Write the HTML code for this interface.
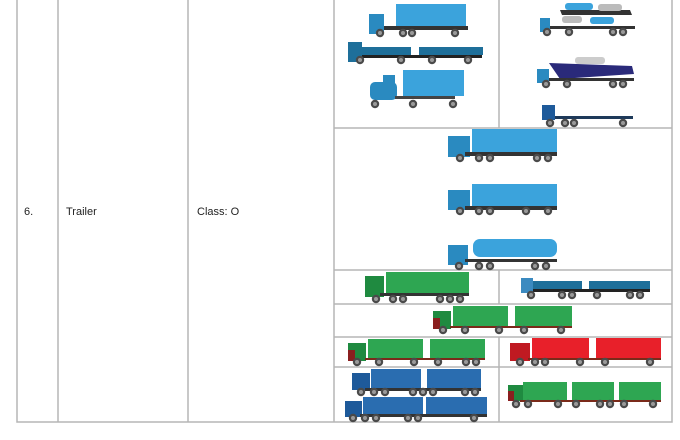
<!DOCTYPE html>
<html><head><style>
body{margin:0;background:#fff;width:680px;height:440px;overflow:hidden}
svg{display:block}
text{font-family:"Liberation Sans",Calibri,sans-serif;font-size:11px;fill:#222}
</style></head><body>
<svg width="680" height="440" viewBox="0 0 680 440">
<defs>
<g id="w"><circle r="4.2" fill="#4a4a4a"/><circle r="2" fill="#9a9a9a"/></g>
</defs>
<!-- grid -->
<g stroke="#b5b5b5" stroke-width="1.5" fill="none">
<rect x="17" y="-1" width="655" height="423"/>
<line x1="58" y1="0" x2="58" y2="422"/>
<line x1="188" y1="0" x2="188" y2="422"/>
<line x1="334" y1="0" x2="334" y2="422"/>
<line x1="499" y1="0" x2="499" y2="128"/>
<line x1="334" y1="128" x2="672" y2="128"/>
<line x1="334" y1="270" x2="672" y2="270"/>
<line x1="499" y1="270" x2="499" y2="304"/>
<line x1="334" y1="304" x2="672" y2="304"/>
<line x1="334" y1="337" x2="672" y2="337"/>
<line x1="499" y1="337" x2="499" y2="422"/>
<line x1="334" y1="367" x2="672" y2="367"/>
</g>
<text x="24" y="215">6.</text>
<text x="66" y="215">Trailer</text>
<text x="197" y="215">Class: O</text>

<!-- top-left trucks -->
<rect x="396" y="4" width="70" height="23" fill="#3ba3dc"/>
<rect x="369" y="14" width="15" height="20" fill="#2a8ac0"/><rect x="384" y="26" width="84" height="4" fill="#333"/>
<use href="#w" x="380" y="33"/><use href="#w" x="403" y="33"/><use href="#w" x="412" y="33"/><use href="#w" x="455" y="33"/>
<rect x="348" y="42" width="14" height="20" fill="#1e6f9a"/>
<rect x="362" y="47" width="49" height="8" fill="#1e6f9a"/><rect x="419" y="47" width="64" height="8" fill="#1e6f9a"/>
<rect x="362" y="55" width="120" height="3" fill="#222"/>
<use href="#w" x="360" y="60"/><use href="#w" x="401" y="60"/><use href="#w" x="432" y="60"/><use href="#w" x="468" y="60"/>
<rect x="403" y="70" width="61" height="26" fill="#3ba3dc"/>
<rect x="370" y="82" width="27" height="18" rx="5" fill="#2a8ac0"/><rect x="383" y="75" width="12" height="10" fill="#2a8ac0"/>
<rect x="395" y="96" width="60" height="3" fill="#444"/>
<use href="#w" x="375" y="104"/><use href="#w" x="413" y="104"/><use href="#w" x="453" y="104"/>
<!-- top-right -->
<rect x="540" y="18" width="10" height="14" fill="#2a8ac0"/>
<polygon points="560,10 630,10 632,15 562,15" fill="#333"/>
<rect x="565" y="3" width="28" height="7" rx="3" fill="#3ba3dc"/><rect x="598" y="4" width="24" height="7" rx="3" fill="#bbb"/>
<rect x="562" y="16" width="20" height="7" rx="3" fill="#bbb"/><rect x="590" y="17" width="24" height="7" rx="3" fill="#3ba3dc"/>
<rect x="550" y="26" width="85" height="3" fill="#333"/>
<use href="#w" x="547" y="32"/><use href="#w" x="569" y="32"/><use href="#w" x="613" y="32"/><use href="#w" x="623" y="32"/>
<polygon points="549,63 632,66 634,74 560,79" fill="#2a2a7a"/><rect x="575" y="57" width="30" height="7" rx="3" fill="#ccc"/>
<rect x="537" y="69" width="12" height="14" fill="#2a8ac0"/><rect x="549" y="78" width="85" height="3" fill="#333"/>
<use href="#w" x="546" y="84"/><use href="#w" x="567" y="84"/><use href="#w" x="613" y="84"/><use href="#w" x="623" y="84"/>
<rect x="542" y="105" width="13" height="15" fill="#1e5a9a"/><rect x="555" y="116" width="78" height="3" fill="#1e3a5a"/>
<use href="#w" x="550" y="123"/><use href="#w" x="565" y="123"/><use href="#w" x="574" y="123"/><use href="#w" x="623" y="123"/>
<!-- middle three -->
<g>
<rect x="472" y="129" width="85" height="23" fill="#3ba3dc"/><rect x="448" y="136" width="22" height="21" fill="#2a8ac0"/>
<rect x="465" y="152" width="92" height="4" fill="#333"/>
<use href="#w" x="460" y="158"/><use href="#w" x="479" y="158"/><use href="#w" x="490" y="158"/><use href="#w" x="537" y="158"/><use href="#w" x="548" y="158"/>
</g>
<g>
<rect x="472" y="184" width="85" height="22" fill="#3ba3dc"/><rect x="448" y="190" width="22" height="20" fill="#2a8ac0"/>
<rect x="465" y="206" width="92" height="4" fill="#333"/>
<use href="#w" x="460" y="211"/><use href="#w" x="479" y="211"/><use href="#w" x="490" y="211"/><use href="#w" x="526" y="211"/><use href="#w" x="548" y="211"/>
</g>
<g>
<rect x="473" y="239" width="84" height="18" rx="7" fill="#3ba3dc"/><rect x="448" y="245" width="20" height="20" fill="#2a8ac0"/>
<rect x="465" y="259" width="92" height="3" fill="#333"/>
<use href="#w" x="459" y="266"/><use href="#w" x="479" y="266"/><use href="#w" x="490" y="266"/><use href="#w" x="535" y="266"/><use href="#w" x="546" y="266"/>
</g>
<!-- row 270 -->
<rect x="386" y="272" width="83" height="21" fill="#2ea652"/><rect x="365" y="276" width="19" height="21" fill="#1f8a40"/>
<rect x="380" y="293" width="89" height="3" fill="#333"/>
<use href="#w" x="376" y="299"/><use href="#w" x="393" y="299"/><use href="#w" x="403" y="299"/><use href="#w" x="440" y="299"/><use href="#w" x="450" y="299"/><use href="#w" x="460" y="299"/>
<rect x="521" y="278" width="12" height="15" fill="#3b8ac0"/><rect x="533" y="281" width="49" height="8" fill="#1e6f9a"/><rect x="589" y="281" width="61" height="8" fill="#1e6f9a"/>
<rect x="533" y="289" width="117" height="3" fill="#222"/>
<use href="#w" x="531" y="295"/><use href="#w" x="562" y="295"/><use href="#w" x="572" y="295"/><use href="#w" x="597" y="295"/><use href="#w" x="630" y="295"/><use href="#w" x="640" y="295"/>
<!-- row 304 -->
<rect x="453" y="306" width="55" height="20" fill="#2ea652"/><rect x="515" y="306" width="57" height="20" fill="#2ea652"/>
<rect x="433" y="311" width="18" height="18" fill="#1f8a40"/><rect x="433" y="318" width="7" height="11" fill="#8a1f1f"/>
<rect x="450" y="326" width="122" height="2" fill="#7a2a1a"/>
<use href="#w" x="443" y="330"/><use href="#w" x="465" y="330"/><use href="#w" x="499" y="330"/><use href="#w" x="524" y="330"/><use href="#w" x="561" y="330"/>
<!-- row 337 left green -->
<rect x="368" y="339" width="55" height="19" fill="#2ea652"/><rect x="430" y="339" width="55" height="19" fill="#2ea652"/>
<rect x="348" y="343" width="18" height="18" fill="#1f8a40"/><rect x="348" y="350" width="7" height="11" fill="#8a1f1f"/>
<rect x="365" y="358" width="120" height="2" fill="#7a2a1a"/>
<use href="#w" x="357" y="362"/><use href="#w" x="379" y="362"/><use href="#w" x="414" y="362"/><use href="#w" x="438" y="362"/><use href="#w" x="466" y="362"/><use href="#w" x="476" y="362"/>
<!-- red -->
<rect x="532" y="338" width="57" height="20" fill="#e8202a"/><rect x="596" y="338" width="65" height="20" fill="#e8202a"/>
<rect x="510" y="343" width="20" height="18" fill="#c01a22"/><rect x="528" y="358" width="133" height="2" fill="#7a2a1a"/>
<use href="#w" x="520" y="362"/><use href="#w" x="535" y="362"/><use href="#w" x="545" y="362"/><use href="#w" x="580" y="362"/><use href="#w" x="605" y="362"/><use href="#w" x="650" y="362"/>
<!-- blue -->
<rect x="371" y="369" width="50" height="19" fill="#2a6db0"/><rect x="427" y="369" width="54" height="19" fill="#2a6db0"/>
<rect x="352" y="373" width="18" height="17" fill="#1e5a9a"/><rect x="365" y="388" width="116" height="3" fill="#333"/>
<use href="#w" x="361" y="392"/><use href="#w" x="374" y="392"/><use href="#w" x="385" y="392"/><use href="#w" x="413" y="392"/><use href="#w" x="423" y="392"/><use href="#w" x="433" y="392"/><use href="#w" x="465" y="392"/><use href="#w" x="475" y="392"/>
<rect x="363" y="397" width="60" height="17" fill="#2a6db0"/><rect x="426" y="397" width="61" height="17" fill="#2a6db0"/>
<rect x="345" y="401" width="17" height="16" fill="#1e5a9a"/><rect x="360" y="414" width="127" height="3" fill="#333"/>
<use href="#w" x="353" y="418"/><use href="#w" x="365" y="418"/><use href="#w" x="376" y="418"/><use href="#w" x="408" y="418"/><use href="#w" x="418" y="418"/><use href="#w" x="474" y="418"/>
<!-- three green trailers -->
<rect x="523" y="382" width="44" height="18" fill="#2ea652"/><rect x="572" y="382" width="42" height="18" fill="#2ea652"/><rect x="619" y="382" width="42" height="18" fill="#2ea652"/>
<rect x="508" y="385" width="15" height="16" fill="#1f8a40"/><rect x="508" y="391" width="6" height="10" fill="#8a1f1f"/>
<rect x="520" y="400" width="141" height="2" fill="#7a2a1a"/>
<use href="#w" x="516" y="404"/><use href="#w" x="528" y="404"/><use href="#w" x="558" y="404"/><use href="#w" x="576" y="404"/><use href="#w" x="600" y="404"/><use href="#w" x="610" y="404"/><use href="#w" x="624" y="404"/><use href="#w" x="653" y="404"/>
</svg>
</body></html>
